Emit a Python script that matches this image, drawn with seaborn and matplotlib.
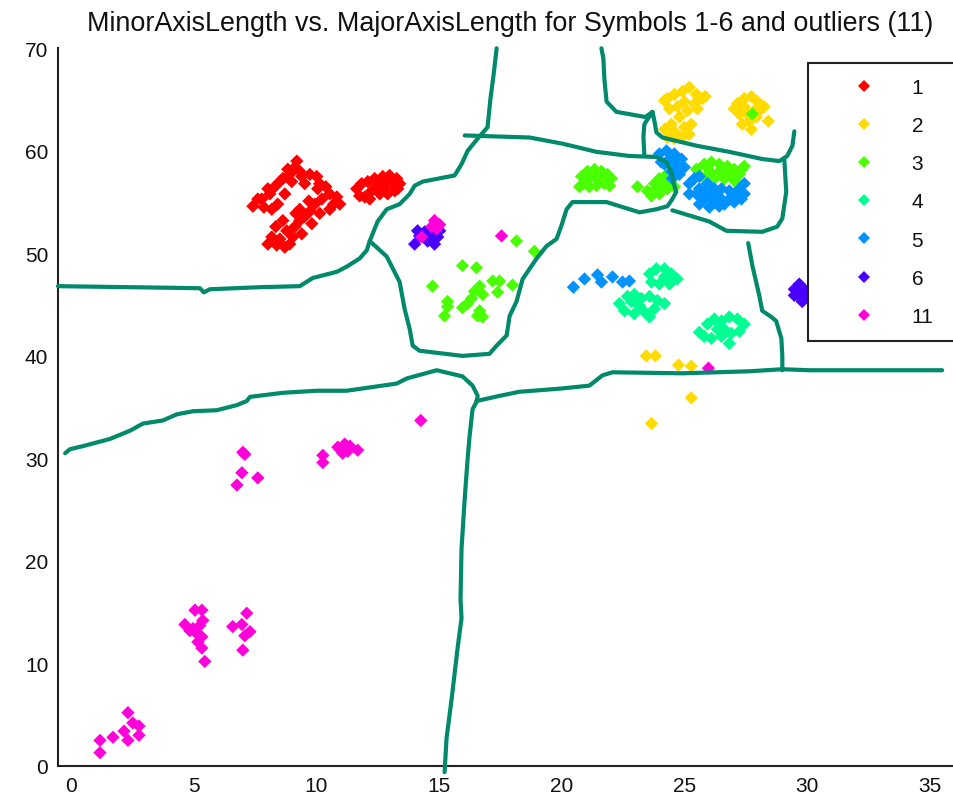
import numpy as np
import pandas as pd
import matplotlib
matplotlib.use("Agg")
import matplotlib.pyplot as plt
import seaborn as sns

# ---- scatter data: (MajorAxisLength, MinorAxisLength) per symbol class ----
sym1_x = [7.41, 7.77, 8.10, 8.30, 8.63, 8.91, 9.12, 9.20, 9.32, 8.71, 8.42, 8.02, 7.61, 8.99, 9.40,
          9.73, 10.01, 10.13, 9.52, 8.83, 8.51, 7.86, 8.18,
          8.02, 8.18, 8.51, 8.71, 8.91, 8.79, 9.12, 9.32, 9.52, 9.73, 9.93, 10.22, 10.54, 10.83, 10.95,
          10.54, 10.13, 9.81, 9.40, 9.04, 8.34, 8.63, 9.32, 10.05, 10.38, 10.70, 9.69, 8.38, 9.16,
          11.64, 11.84, 12.09, 12.37, 12.70, 12.98, 13.27, 13.39, 13.19, 12.90, 12.58, 12.25, 11.97,
          12.78, 12.49, 13.06, 11.76, 12.17, 13.31, 12.86]
sym1_y = [54.6, 55.3, 55.8, 56.5, 57.3, 57.7, 58.4, 59.0, 58.0, 55.8, 54.8, 56.3, 55.3, 57.0, 57.5,
          57.7, 57.5, 56.8, 56.8, 58.2, 57.0, 54.5, 54.3,
          50.9, 51.6, 51.4, 50.6, 50.9, 52.2, 52.6, 53.2, 53.6, 54.1, 54.8, 55.3, 55.8, 55.5, 54.8,
          54.3, 53.9, 52.9, 51.9, 51.6, 52.6, 53.2, 54.3, 56.3, 56.5, 54.8, 55.1, 50.8, 53.9,
          56.3, 56.8, 57.0, 57.3, 57.5, 57.6, 57.3, 56.8, 56.1, 55.8, 55.8, 56.1, 55.5,
          56.5, 56.7, 56.8, 55.6, 55.3, 56.3, 57.1]

sym2_x = [24.30, 24.58, 24.91, 25.19, 25.48, 25.72, 25.40, 24.99, 24.70, 24.38, 24.18, 25.11, 24.79,
          24.46, 24.18, 24.58, 24.99, 25.27, 24.87, 25.19, 24.30, 25.52, 25.84, 24.58,
          27.15, 27.43, 27.72, 27.96, 28.12, 27.84, 27.55, 27.23, 27.02, 27.64, 27.35, 27.92, 28.24,
          28.41, 27.72, 27.43,
          23.44, 23.81, 24.75, 25.27, 25.27, 23.65]
sym2_y = [65.1, 65.5, 65.8, 66.2, 65.5, 65.1, 64.6, 64.8, 64.3, 64.1, 64.9, 63.9, 63.3,
          62.6, 62.1, 61.9, 62.3, 62.6, 61.3, 61.6, 61.3, 64.1, 65.3, 61.2,
          64.6, 65.1, 65.3, 64.8, 64.1, 63.9, 63.6, 63.6, 64.1, 62.9, 62.6, 63.3, 64.3,
          62.9, 62.1, 64.3,
          40.0, 40.0, 39.1, 39.0, 35.9, 33.4]

sym3_x = [20.80, 21.04, 21.33, 21.61, 21.86, 22.02, 21.73, 21.41, 21.12, 20.88, 21.33, 21.53, 21.12,
          21.94, 20.72,
          23.48, 23.77, 23.97, 24.18, 24.38, 24.30, 23.97, 23.65, 24.58, 23.81, 24.05, 23.08,
          25.48, 25.80, 26.09, 26.41, 26.74, 27.02, 27.31, 27.23, 26.82, 26.41, 26.01, 25.60, 25.80,
          26.21, 26.62, 27.02, 27.43,
          18.15, 18.88, 15.95, 16.52, 14.73, 17.18, 17.46, 17.99, 17.38, 16.65, 16.44, 16.77, 16.32,
          16.16, 15.34, 15.34, 15.95, 15.22, 16.65, 16.77, 16.56,
          27.76]
sym3_y = [57.5, 58.0, 58.2, 58.0, 57.7, 57.3, 56.8, 56.6, 56.5, 56.8, 57.5, 57.3, 57.3,
          56.6, 56.5,
          56.1, 56.8, 57.3, 57.5, 57.0, 56.3, 55.8, 55.6, 56.5, 56.3, 56.5, 56.5,
          58.2, 58.7, 58.9, 58.7, 58.5, 58.2, 58.2, 57.7, 57.7, 58.0, 58.0, 57.6, 57.3,
          57.3, 57.3, 57.1, 58.5,
          51.2, 50.2, 48.8, 48.6, 46.8, 47.3, 47.3, 46.9, 46.2, 46.8, 46.3, 46.0, 45.6,
          45.1, 45.3, 44.8, 44.7, 43.9, 44.4, 43.8, 43.9,
          63.6]

sym4_x = [23.57, 23.85, 24.18, 24.46, 24.70, 24.38, 23.97, 23.65, 24.18,
          22.34, 22.67, 22.95, 23.24, 23.57, 23.89, 24.18, 23.77, 23.36, 22.95, 22.55, 23.16, 23.57,
          22.83,
          25.60, 25.93, 26.21, 26.50, 26.82, 27.15, 27.43, 27.23, 26.90, 26.50, 26.09, 25.80, 26.62,
          26.82, 26.33]
sym4_y = [48.0, 48.5, 48.5, 48.0, 47.5, 47.0, 47.0, 47.2, 47.7,
          45.1, 45.8, 46.0, 45.6, 45.8, 45.4, 45.1, 44.6, 44.3, 44.1, 44.4, 44.9, 43.8,
          45.3,
          42.3, 43.1, 43.6, 43.4, 43.8, 43.6, 43.1, 42.4, 42.2, 41.9, 41.7, 41.9, 42.6,
          41.2, 42.6]

sym5_x = [23.97, 24.26, 24.58, 24.87, 24.99, 24.79, 24.46, 24.18, 24.38, 24.05, 24.67, 24.50,
          25.19, 25.40, 25.60, 25.93, 26.21, 26.50, 26.82, 27.15, 27.31, 27.02, 26.62, 26.21, 25.80,
          25.48, 25.19, 25.60, 26.09, 26.41, 26.82, 27.23, 27.43, 26.41, 26.01, 25.60, 27.43, 25.80,
          20.47, 20.92, 21.45, 21.61, 22.06, 22.47, 22.75]
sym5_y = [59.7, 60.0, 59.7, 59.2, 58.4, 57.7, 58.0, 58.7, 59.2, 58.9, 58.7, 57.3,
          56.8, 57.3, 57.5, 56.8, 56.3, 56.3, 56.1, 55.8, 55.3, 55.0, 54.8, 55.0, 55.3,
          55.8, 55.8, 56.3, 55.6, 55.5, 55.3, 56.3, 56.8, 54.6, 54.5, 54.8, 55.8, 56.0,
          46.7, 47.5, 47.9, 47.2, 47.7, 47.2, 47.3]

sym6_x = [14.00, 14.20, 14.41, 14.69, 14.94, 14.53, 14.81, 14.12, 15.02,
          29.47, 29.67, 29.87, 29.67, 29.47, 30.00, 30.16, 30.08, 29.79]
sym6_y = [50.9, 51.7, 52.1, 51.9, 51.6, 51.2, 50.9, 52.2, 52.2,
          46.5, 47.0, 46.5, 45.8, 45.9, 46.2, 46.7, 45.6, 45.3]

sym11_x = [14.81, 15.02, 14.69, 14.90, 14.29, 17.54, 25.97, 14.25,
           10.95, 11.15, 11.36, 11.07, 10.87, 11.27, 11.68, 10.26, 10.26,
           7.08, 6.96, 6.76, 7.61, 7.00,
           5.05, 5.33, 5.37, 4.64, 4.84, 5.13, 5.33, 5.17, 5.33, 5.45, 4.97, 5.25,
           7.16, 6.59, 6.96, 7.29, 7.08, 7.00,
           2.32, 2.52, 2.77, 2.16, 1.71, 1.18, 2.32, 2.77, 1.18]
sym11_y = [53.2, 52.8, 52.6, 52.4, 51.6, 51.7, 38.8, 33.7,
           30.9, 31.4, 31.2, 30.5, 31.1, 30.7, 30.8, 30.3, 29.6,
           30.4, 28.6, 27.4, 28.1, 30.6,
           15.2, 15.2, 14.2, 13.8, 13.2, 12.9, 12.6, 12.1, 11.5, 10.2, 13.4, 13.7,
           14.9, 13.6, 13.8, 13.1, 12.7, 11.3,
           5.2, 4.2, 3.9, 3.4, 2.8, 2.5, 2.5, 3.0, 1.3]

class_labels = ["1", "2", "3", "4", "5", "6", "11"]
class_colors = ["#FF0000", "#FFDB00", "#49FF00", "#00FF92", "#0092FF", "#4900FF", "#FF00DB"]

# ---- hand-drawn decision boundaries (data coordinates) ----
bound_left_x = [-0.53, 2.40, 5.25, 5.41, 5.66, 7.69, 9.32, 9.85, 10.83, 11.23, 11.76, 12.05, 12.17,
                12.49, 12.86, 13.39, 13.80, 14.00, 14.33, 15.63, 15.91, 16.16, 16.57, 16.97, 17.09,
                17.22, 17.34]
bound_left_y = [46.8, 46.7, 46.6, 46.2, 46.5, 46.7, 46.8, 47.6, 48.2, 48.7, 49.5, 50.3, 51.2,
                53.1, 54.3, 54.8, 55.8, 56.6, 57.0, 57.6, 58.7, 60.0, 61.2, 62.3, 65.1,
                67.5, 70.0]

bound_loop_x = [12.17, 12.86, 13.39, 13.59, 13.80, 13.92, 14.20, 15.95, 17.05, 17.34, 17.75, 17.87,
                18.15, 18.40, 18.97, 19.37, 19.78, 19.98, 20.19, 20.43, 21.82, 23.16, 23.85, 24.30,
                24.50, 24.66, 24.58, 24.46, 24.26, 23.85, 22.75, 21.41, 20.02, 18.68, 16.04]
bound_loop_y = [51.2, 49.7, 47.2, 44.6, 42.6, 41.0, 40.5, 40.0, 40.2, 41.0, 42.0, 43.9,
                45.3, 47.5, 49.5, 50.7, 51.4, 52.7, 54.3, 55.0, 55.0, 54.0, 54.3, 54.6,
                55.3, 56.0, 56.6, 57.9, 58.9, 59.4, 59.5, 59.9, 60.7, 61.3, 61.5]

bound_top_x = [21.61, 21.69, 21.73, 21.82, 22.22, 23.40, 23.69]
bound_top_y = [70.0, 69.0, 67.0, 64.8, 63.8, 63.3, 63.8]

bound_fork_x = [23.36, 23.32, 23.36, 23.69, 23.77, 23.85, 24.09, 25.48, 26.82, 28.16, 28.86, 29.18,
                29.39, 29.47]
bound_fork_y = [59.5, 61.4, 62.6, 63.8, 62.9, 61.8, 61.3, 60.5, 59.9, 59.2, 59.0, 59.5,
                60.5, 61.9]

bound_box_x = [29.06, 29.14, 28.98, 28.77, 28.16, 26.70, 26.01, 24.50]
bound_box_y = [59.2, 56.0, 53.4, 52.6, 52.1, 52.2, 53.1, 54.2]

bound_right_x = [27.59, 27.76, 28.04, 28.16, 28.53, 28.73, 28.94, 28.98, 28.98]
bound_right_y = [51.0, 48.8, 45.9, 44.4, 43.8, 43.4, 41.7, 40.0, 38.6]

bound_mid_x = [16.52, 17.46, 18.27, 19.90, 21.12, 21.65, 22.06, 24.91, 27.64, 28.98, 30.08, 35.49]
bound_mid_y = [35.6, 36.1, 36.5, 36.8, 37.1, 38.1, 38.4, 38.3, 38.5, 38.7, 38.6, 38.6]

bound_low_x = [-0.24, -0.04, 0.49, 1.59, 2.40, 2.93, 3.74, 4.31, 4.97, 5.94, 6.76, 7.16, 7.29,
               8.63, 10.01, 11.23, 13.27, 13.68, 14.90, 15.95, 16.36, 16.57, 16.52]
bound_low_y = [30.5, 30.9, 31.2, 31.9, 32.7, 33.4, 33.7, 34.3, 34.6, 34.7, 35.2, 35.6, 36.0,
               36.4, 36.6, 36.6, 37.3, 37.8, 38.6, 38.0, 37.1, 36.1, 35.5]

bound_down_x = [16.52, 16.36, 16.24, 16.16, 16.04, 15.91, 15.87, 15.91, 15.75, 15.51, 15.30, 15.22]
bound_down_y = [35.5, 34.8, 32.2, 30.0, 26.1, 21.2, 16.3, 14.4, 11.5, 6.6, 2.7, -0.6]

boundaries = [
    (bound_left_x, bound_left_y), (bound_loop_x, bound_loop_y), (bound_top_x, bound_top_y),
    (bound_fork_x, bound_fork_y), (bound_box_x, bound_box_y), (bound_right_x, bound_right_y),
    (bound_mid_x, bound_mid_y), (bound_low_x, bound_low_y), (bound_down_x, bound_down_y),
]

# ---- assemble long-form table ----
xs = [sym1_x, sym2_x, sym3_x, sym4_x, sym5_x, sym6_x, sym11_x]
ys = [sym1_y, sym2_y, sym3_y, sym4_y, sym5_y, sym6_y, sym11_y]
frames = []
for lab, x, y in zip(class_labels, xs, ys):
    frames.append(pd.DataFrame({"Major": x, "Minor": y, "Symbol": lab}))
df = pd.concat(frames, ignore_index=True)

sns.set_theme(style="white")
plt.rcParams["font.family"] = ["Liberation Sans", "DejaVu Sans"]

fig = plt.figure(figsize=(9.54, 8.03), dpi=100)
ax = fig.add_axes([58 / 954, 36 / 803, (962 - 58) / 954, (767 - 49.3) / 803])

sns.scatterplot(data=df, x="Major", y="Minor", hue="Symbol", hue_order=class_labels,
                palette=class_colors, marker="D", s=46, edgecolor=None, linewidth=0,
                ax=ax, legend=False, zorder=2)

line_color = "#00896A"
for bx, by in boundaries:
    ax.plot(bx, by, color=line_color, lw=3.0, solid_capstyle="round",
            solid_joinstyle="round", zorder=3, clip_on=False)

ax.set_xlim(-0.53, 36.3)
ax.set_ylim(0, 70)
ax.set_xticks(range(0, 36, 5))
ax.set_yticks(range(0, 71, 10))
ax.set_xlabel("")
ax.set_ylabel("")
ax.set_title("MinorAxisLength vs. MajorAxisLength for Symbols 1-6 and outliers (11)",
             fontsize=19.4, color="#111111", pad=13)

for side in ["top", "right"]:
    ax.spines[side].set_visible(False)
for side in ["left", "bottom"]:
    ax.spines[side].set_color("#222222")
    ax.spines[side].set_linewidth(1.5)
ax.tick_params(direction="in", length=5, width=1.5, color="#222222",
               labelsize=15, labelcolor="#111111", pad=7)

# legend with one diamond per symbol class; its box runs past the right edge
handles = [plt.Line2D([], [], ls="none", marker="D", markersize=6.5, color=c, markeredgewidth=0)
           for c in class_colors]
leg = fig.legend(handles, class_labels, loc="upper left", mode="expand",
                 bbox_to_anchor=(808 / 954, 1 - 64 / 803, 170 / 954, 0),
                 bbox_transform=fig.transFigure,
                 fontsize=15, frameon=True, fancybox=False, framealpha=1, borderpad=0.72,
                 labelspacing=0.92, handlelength=3.95, handletextpad=0.3, borderaxespad=0)
leg.get_frame().set_edgecolor("#222222")
leg.get_frame().set_linewidth(1.5)
for t in leg.get_texts():
    t.set_color("#111111")

fig.savefig("out.png", dpi=100)
